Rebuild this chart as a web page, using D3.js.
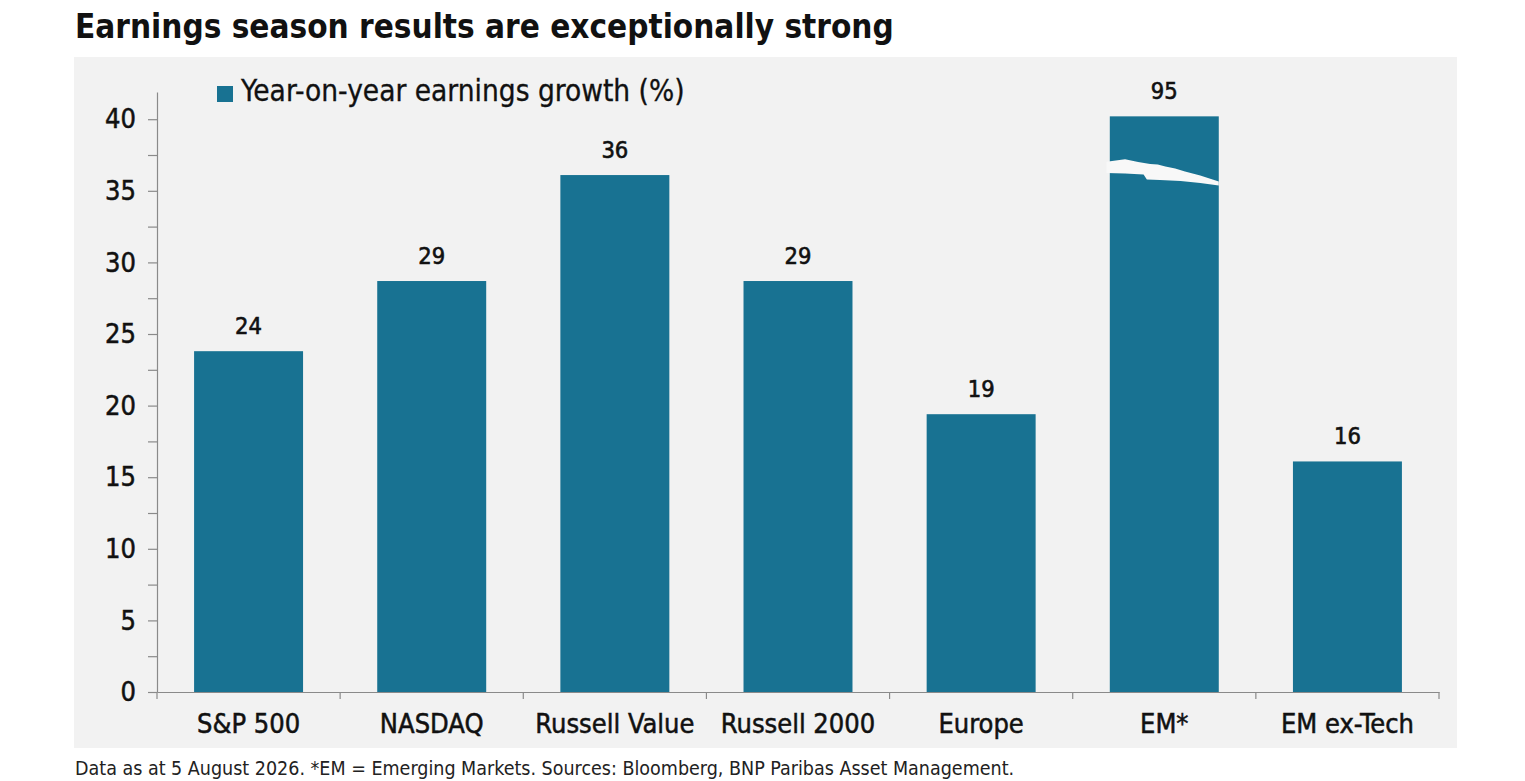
<!DOCTYPE html>
<html>
<head>
<meta charset="utf-8">
<script src="https://cdn.jsdelivr.net/npm/d3@7"></script>
<style>
  html, body { margin: 0; padding: 0; background: #ffffff; }
  svg { display: block; }
  .cond { font-family: "DejaVu Sans Condensed", "DejaVu Sans", sans-serif; font-stretch: condensed; }
</style>
</head>
<body>
<svg id="chart" width="1525" height="781"></svg>
<script>
// ---- data ----
const title = "Earnings season results are exceptionally strong";
const legendLabel = "Year-on-year earnings growth (%)";
const footnote = "Data as at 5 August 2026. *EM = Emerging Markets. Sources: Bloomberg, BNP Paribas Asset Management.";
const categories = ["S&P 500", "NASDAQ", "Russell Value", "Russell 2000", "Europe", "EM*", "EM ex-Tech"];
const growth = [23.8, 28.7, 36.1, 28.7, 19.4, 95, 16.1];
const yTickLabels = [0, 5, 10, 15, 20, 25, 30, 35, 40];
const yMinorTicks = [0, 2.5, 5, 7.5, 10, 12.5, 15, 17.5, 20, 22.5, 25, 27.5, 30, 32.5, 35, 37.5, 40];
const brokenBarCap = 40.2;          // EM bar is truncated at this value on the axis
// torn break on the truncated bar: [fraction of bar width, axis value]
const breakTopEdge = [[-0.03, 37.03], [0.14, 37.2], [0.26, 37.02], [0.37, 36.87], [0.44, 36.84], [0.51, 36.7], [0.60, 36.56], [0.69, 36.35], [0.83, 36.07], [1.0, 35.65]];
const breakBottomEdge = [[1.0, 35.37], [0.83, 35.54], [0.65, 35.68], [0.46, 35.75], [0.34, 35.79], [0.31, 36.14], [0.14, 36.21], [-0.03, 36.24]];

// ---- styles ----
const barColor = "#187292";
const panelColor = "#f2f2f2";
const breakColor = "#f8f8f8";
const axisColor = "#8a8a8a";
const textColor = "#111111";

const svg = d3.select("#chart");

// background panel
svg.append("rect")
  .attr("x", 74).attr("y", 57).attr("width", 1383).attr("height", 691)
  .attr("fill", panelColor);

// title
svg.append("text").attr("class", "cond")
  .attr("x", 75).attr("y", 38)
  .attr("font-size", 33).attr("font-weight", "bold").attr("fill", textColor)
  .text(title);

// scales
const x = d3.scaleBand().domain(categories).range([157, 1439])
  .paddingInner(0.405).paddingOuter(0.2025);
const y = d3.scaleLinear().domain([0, 41.9]).range([692, 92]);

// y axis
const yAxis = d3.axisLeft(y).tickValues(yMinorTicks).tickSize(9).tickSizeOuter(0).tickPadding(12)
  .tickFormat(d => yTickLabels.includes(d) ? d : "");
const gy = svg.append("g").attr("transform", "translate(157,0)").call(yAxis);
gy.select(".domain").attr("stroke", axisColor).attr("stroke-width", 1.2);
gy.selectAll(".tick line").attr("stroke", axisColor).attr("stroke-width", 1.2);
gy.selectAll(".tick text").attr("class", "cond").attr("font-size", 27).attr("fill", textColor)
  .attr("stroke", textColor).attr("stroke-width", 0.5);

// bars
const data = categories.map((c, i) => ({ cat: c, value: growth[i] }));
svg.append("g").selectAll("rect").data(data).join("rect")
  .attr("x", d => x(d.cat))
  .attr("width", x.bandwidth())
  .attr("y", d => y(Math.min(d.value, brokenBarCap)))
  .attr("height", d => y(0) - y(Math.min(d.value, brokenBarCap)))
  .attr("fill", barColor);

// break mark on truncated bar
data.filter(d => d.value > brokenBarCap).forEach(d => {
  const pts = breakTopEdge.concat(breakBottomEdge)
    .map(([f, v]) => [x(d.cat) + f * x.bandwidth(), y(v)]);
  svg.append("path")
    .attr("d", d3.line()(pts) + "Z")
    .attr("fill", breakColor);
});

// value labels
svg.append("g").selectAll("text").data(data).join("text")
  .attr("class", "cond")
  .attr("x", d => x(d.cat) + x.bandwidth() / 2)
  .attr("y", d => y(Math.min(d.value, brokenBarCap)) - 17.5)
  .attr("text-anchor", "middle")
  .attr("font-size", 23.5).attr("fill", textColor)
  .attr("stroke", textColor).attr("stroke-width", 0.6)
  .text(d => d3.format(".0f")(d.value));

// x axis
const xAxis = d3.axisBottom(x).tickSize(0).tickSizeOuter(0);
const gx = svg.append("g").attr("transform", "translate(0,692)").call(xAxis);
gx.select(".domain").attr("stroke", axisColor).attr("stroke-width", 1.2);
gx.selectAll(".tick text").attr("class", "cond").attr("font-size", 27).attr("fill", textColor)
  .attr("stroke", textColor).attr("stroke-width", 0.5)
  .attr("y", 41).attr("dy", "0");
// category boundary ticks
const boundaries = d3.range(categories.length + 1).map(i => x.range()[0] + i * x.step());
gx.selectAll("line.bound").data(boundaries).join("line")
  .attr("class", "bound")
  .attr("x1", d => d).attr("x2", d => d)
  .attr("y1", 0).attr("y2", 7)
  .attr("stroke", axisColor).attr("stroke-width", 1.2);

// legend
const lg = svg.append("g");
lg.append("rect").attr("x", 217).attr("y", 86).attr("width", 16).attr("height", 16).attr("fill", barColor);
lg.append("text").attr("class", "cond")
  .attr("x", 241).attr("y", 101)
  .attr("font-size", 29.5).attr("fill", textColor)
  .attr("stroke", textColor).attr("stroke-width", 0.3)
  .text(legendLabel);

// footnote
svg.append("text").attr("class", "cond")
  .attr("x", 75).attr("y", 775)
  .attr("font-size", 19.5).attr("fill", "#222")
  .text(footnote);
</script>
</body>
</html>
